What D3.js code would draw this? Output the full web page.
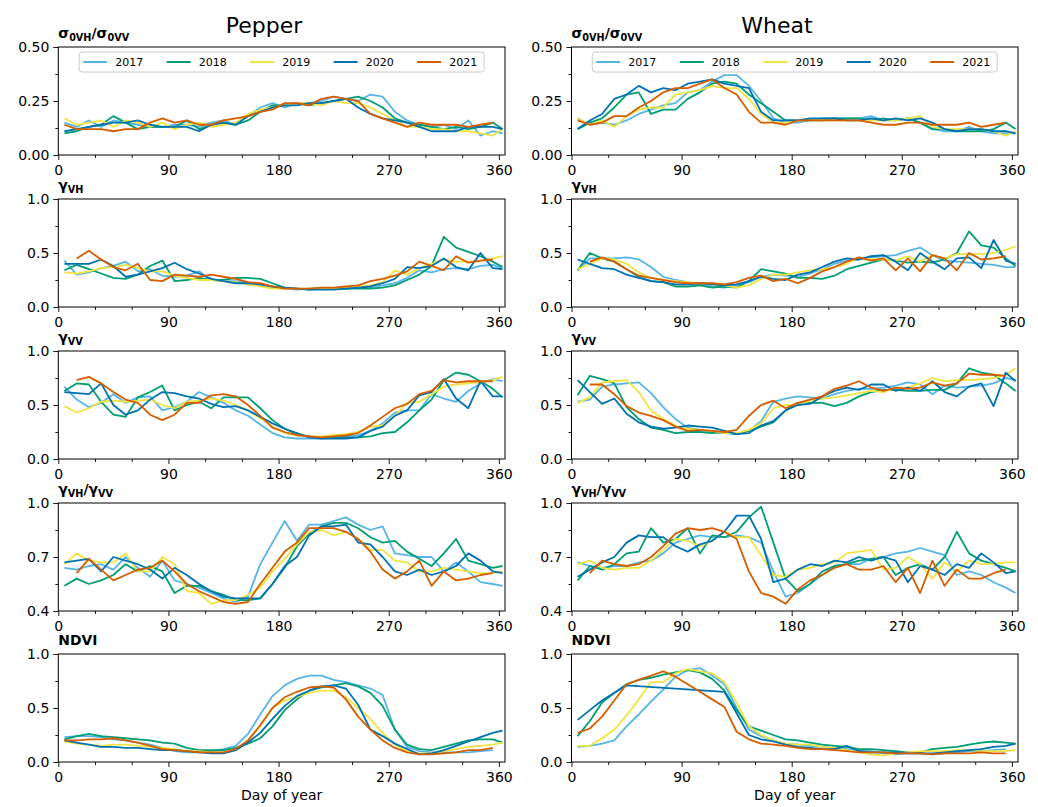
<!DOCTYPE html>
<html>
<head>
<meta charset="utf-8">
<title>Pepper / Wheat time series</title>
<script src="https://cdn.jsdelivr.net/npm/d3@7"></script>
<style>
  body { margin: 0; background: #fff; }
  svg text { font-family: "DejaVu Sans", sans-serif; fill: #000; }
</style>
</head>
<body>
<svg id="chart" width="1038" height="807"></svg>
<script>
// ---- data -------------------------------------------------------------
const YEARS  = ["2017", "2018", "2019", "2020", "2021"];
const COLORS = ["#56B4E9", "#009E73", "#F0E442", "#0072B2", "#D55E00"];
const DAYS = [5,15,25,35,45,55,65,75,85,95,105,115,125,135,145,155,165,175,185,195,
              205,215,225,235,245,255,265,275,285,295,305,315,325,335,345,355,363];
const X_TICKS = [0, 90, 180, 270, 360];
const X_MINOR = [30, 60, 120, 150, 210, 240, 300, 330];

// sigma0VH / sigma0VV
const SIGMA_PEPPER = [
  [.15,.13,.16,.13,.16,.15,.14,.13,.13,.14,.14,.13,.15,.16,.14,.18,.22,.24,.22,.24,.24,.25,.27,.26,.25,.28,.27,.20,.16,.14,.13,.14,.12,.16,.09,.11,.10],
  [.10,.11,.13,.14,.18,.15,.12,.13,.13,.13,.16,.12,.14,.15,.14,.16,.20,.23,.23,.24,.23,.24,.25,.26,.27,.25,.22,.17,.15,.14,.13,.12,.13,.12,.13,.15,.12],
  [.17,.14,.15,.16,.13,.16,.15,.13,.15,.12,.14,.15,.13,.14,.15,.19,.21,.22,.23,.24,.24,.23,.25,.24,.24,.22,.19,.16,.13,.13,.12,.12,.11,.11,.10,.09,.12],
  [.11,.12,.13,.14,.15,.15,.16,.14,.13,.13,.13,.11,.14,.15,.14,.18,.20,.22,.23,.23,.24,.24,.25,.26,.22,.19,.17,.16,.15,.13,.11,.11,.11,.13,.13,.13,.12],
  [.14,.12,.12,.12,.11,.12,.12,.15,.17,.15,.16,.14,.14,.16,.17,.18,.20,.21,.24,.24,.23,.26,.27,.26,.25,.19,.17,.15,.13,.15,.14,.14,.14,.13,.14,.15,null]
];
const SIGMA_WHEAT = [
  [.17,.14,.15,.14,.16,.19,.21,.23,.24,.29,.30,.34,.37,.37,.32,.25,.17,.15,.15,.16,.17,.17,.17,.17,.18,.16,.16,.17,.15,.12,.11,.11,.13,.11,.10,.10,.10],
  [.12,.15,.17,.22,.28,.29,.19,.21,.21,.26,.29,.33,.34,.33,.28,.24,.20,.16,.16,.16,.16,.17,.17,.17,.16,.17,.16,.17,.15,.12,.12,.11,.11,.11,.12,.15,.12],
  [.17,.14,.16,.13,.18,.21,.22,.22,.28,.29,.30,.32,.31,.31,.26,.19,.15,.15,.16,.16,.16,.16,.16,.16,.16,.16,.16,.17,.18,.13,.12,.12,.12,.12,.11,.09,.11],
  [.12,.16,.19,.26,.28,.32,.29,.31,.30,.33,.34,.35,.33,.32,.31,.20,.16,.16,.16,.17,.17,.17,.16,.16,.17,.16,.17,.16,.17,.15,.12,.11,.12,.12,.11,.11,.10],
  [.16,.14,.15,.18,.18,.22,.25,.29,.31,.31,.33,.35,.31,.28,.20,.15,.15,.14,.16,.16,.16,.16,.16,.16,.15,.14,.14,.15,.15,.14,.14,.14,.15,.13,.14,.15,null]
];

// gamma VH
const GVH_PEPPER = [
  [.43,.30,.32,.36,.38,.42,.33,.35,.29,.28,.29,.33,.25,.24,.24,.22,.20,.18,.17,.16,.17,.17,.17,.17,.18,.18,.20,.22,.27,.34,.32,.35,.36,.35,.38,.39,.36],
  [.34,.39,.35,.31,.27,.26,.30,.38,.43,.24,.25,.27,.25,.25,.27,.27,.26,.22,.18,.17,.16,.17,.17,.17,.17,.17,.18,.20,.25,.30,.38,.65,.55,.51,.47,.42,.37],
  [.32,.31,.33,.36,.37,.39,.36,.33,.33,.29,.27,.25,.25,.24,.23,.21,.19,.17,.17,.17,.17,.17,.17,.18,.19,.20,.23,.34,.30,.36,.40,.44,.42,.42,.43,.45,.47],
  [.40,.40,.40,.44,.38,.28,.30,.33,.36,.41,.35,.31,.26,.24,.22,.22,.21,.19,.18,.17,.16,.16,.16,.17,.18,.19,.22,.26,.37,.36,.38,.45,.37,.34,.50,.36,.35],
  [null,.45,.52,.44,.37,.34,.40,.25,.24,.30,.29,.28,.30,.28,.26,.23,.22,.19,.17,.17,.17,.18,.18,.19,.20,.24,.26,.29,.33,.42,.38,.34,.47,.41,.43,.44,null]
];
const GVH_WHEAT = [
  [.34,.45,.45,.45,.46,.44,.37,.28,.25,.23,.21,.19,.18,.20,.23,.28,.30,.29,.28,.31,.35,.40,.43,.44,.46,.47,.48,.52,.55,.48,.43,.42,.41,.40,.39,.37,.37],
  [.34,.50,.45,.42,.35,.28,.24,.23,.19,.19,.20,.18,.19,.18,.24,.35,.33,.31,.27,.27,.26,.29,.35,.38,.41,.44,.43,.41,.42,.41,.44,.50,.70,.57,.55,.45,.38],
  [.35,.40,.45,.44,.40,.32,.27,.25,.24,.23,.22,.21,.20,.18,.20,.26,.30,.30,.32,.34,.35,.37,.40,.46,.44,.44,.43,.47,.42,.48,.45,.49,.49,.49,.50,.53,.56],
  [.44,.40,.36,.35,.30,.27,.24,.23,.21,.21,.22,.21,.20,.21,.24,.28,.26,.25,.30,.32,.37,.42,.45,.44,.47,.48,.42,.34,.50,.42,.35,.45,.46,.36,.62,.43,.40],
  [null,.42,.46,.42,.35,.29,.27,.25,.23,.22,.22,.22,.21,.23,.27,.29,.24,.26,.22,.27,.33,.37,.42,.46,.43,.45,.34,.45,.33,.48,.45,.34,.50,.44,.45,.47,null]
];

// gamma VV
const GVV_PEPPER = [
  [.67,.55,.48,.52,.60,.52,.57,.58,.45,.48,.53,.62,.57,.52,.45,.40,.32,.24,.20,.19,.19,.19,.20,.21,.22,.26,.33,.43,.45,.45,.60,.56,.53,.63,.70,.74,.72],
  [.63,.70,.69,.53,.41,.39,.57,.62,.68,.45,.50,.53,.47,.57,.57,.57,.47,.36,.28,.23,.21,.20,.20,.20,.20,.21,.24,.25,.34,.45,.55,.73,.80,.78,.72,.65,.57],
  [.49,.43,.47,.53,.54,.53,.54,.55,.50,.47,.53,.54,.56,.54,.50,.45,.38,.30,.24,.22,.21,.21,.22,.23,.25,.30,.31,.40,.52,.53,.60,.67,.69,.70,.71,.73,.76],
  [.62,.61,.60,.70,.50,.41,.45,.55,.62,.61,.58,.56,.51,.48,.49,.45,.39,.33,.28,.24,.20,.19,.19,.19,.20,.26,.30,.40,.45,.59,.62,.74,.56,.47,.72,.58,.58],
  [null,.73,.76,.70,.62,.55,.52,.41,.36,.41,.52,.52,.59,.60,.58,.50,.40,.29,.25,.22,.21,.20,.21,.22,.24,.31,.39,.47,.51,.60,.63,.73,.71,.72,.72,.72,null]
];
const GVV_WHEAT = [
  [.53,.55,.67,.69,.70,.71,.61,.48,.37,.29,.27,.25,.24,.23,.26,.35,.53,.56,.58,.57,.56,.60,.63,.65,.65,.66,.68,.71,.69,.60,.68,.66,.67,.68,.70,.75,.73],
  [.59,.77,.74,.70,.48,.37,.29,.27,.24,.25,.25,.24,.25,.23,.26,.30,.34,.45,.52,.52,.52,.49,.52,.58,.62,.64,.64,.63,.63,.64,.64,.70,.84,.80,.78,.70,.63],
  [.52,.57,.71,.72,.73,.62,.45,.37,.31,.28,.27,.26,.24,.24,.27,.33,.47,.50,.50,.54,.56,.57,.59,.61,.63,.62,.66,.66,.70,.75,.72,.73,.73,.74,.75,.78,.84],
  [.73,.62,.51,.56,.42,.34,.30,.28,.29,.31,.30,.29,.26,.23,.24,.31,.35,.45,.50,.51,.58,.63,.66,.64,.69,.69,.63,.66,.63,.72,.62,.58,.67,.70,.49,.80,.72],
  [null,.69,.69,.60,.49,.43,.40,.36,.30,.26,.27,.26,.25,.27,.40,.50,.54,.47,.52,.55,.58,.65,.68,.72,.66,.63,.66,.65,.66,.71,.68,.70,.79,.78,.78,.77,null]
];

// gamma VH / gamma VV
const RATIO_PEPPER = [
  [.64,.63,.65,.66,.63,.70,.64,.59,.68,.57,.55,.53,.50,.47,.45,.48,.66,.78,.90,.79,.88,.88,.90,.92,.88,.85,.87,.72,.71,.70,.70,.62,.67,.62,.56,.55,.54],
  [.54,.58,.55,.57,.60,.66,.62,.65,.62,.50,.54,.54,.51,.49,.46,.46,.47,.55,.64,.76,.83,.87,.89,.89,.86,.81,.78,.79,.73,.69,.65,.72,.80,.68,.66,.64,.65],
  [.66,.72,.68,.67,.67,.72,.62,.62,.70,.66,.51,.50,.44,.46,.46,.49,.53,.62,.69,.77,.84,.85,.82,.84,.80,.74,.74,.68,.67,.62,.62,.64,.63,.62,.61,.61,.62],
  [.67,.68,.69,.62,.70,.68,.66,.63,.58,.64,.60,.55,.51,.48,.47,.47,.47,.55,.65,.70,.82,.87,.87,.88,.78,.77,.70,.62,.60,.63,.60,.62,.65,.72,.68,.62,.61],
  [null,.61,.69,.63,.57,.60,.63,.64,.68,.62,.55,.51,.48,.45,.44,.45,.55,.64,.73,.78,.86,.86,.86,.84,.80,.73,.63,.58,.62,.68,.54,.62,.57,.58,.60,.61,null]
];
const RATIO_WHEAT = [
  [.67,.65,.64,.65,.65,.67,.68,.72,.78,.80,.82,.81,.81,.82,.81,.78,.62,.48,.50,.55,.60,.65,.66,.66,.69,.70,.72,.73,.75,.73,.71,.60,.62,.60,.56,.53,.50],
  [.57,.65,.63,.66,.72,.73,.86,.78,.80,.86,.72,.82,.81,.84,.92,.98,.78,.58,.51,.55,.62,.65,.66,.68,.69,.70,.60,.64,.66,.63,.70,.84,.72,.68,.66,.64,.62],
  [.66,.68,.64,.63,.64,.64,.68,.74,.80,.79,.76,.79,.84,.81,.81,.71,.60,.59,.63,.64,.66,.67,.72,.73,.74,.63,.64,.70,.66,.58,.67,.62,.68,.66,.66,.67,.67],
  [.59,.63,.67,.70,.78,.82,.81,.81,.76,.73,.77,.79,.84,.93,.93,.80,.56,.58,.63,.66,.65,.68,.67,.70,.68,.70,.68,.56,.65,.63,.60,.66,.64,.72,.67,.61,.62],
  [null,.61,.68,.66,.65,.66,.70,.76,.83,.86,.85,.86,.84,.80,.62,.50,.48,.44,.52,.57,.60,.64,.66,.63,.63,.65,.56,.64,.50,.68,.54,.63,.58,.58,.61,.63,null]
];

// NDVI
const NDVI_PEPPER = [
  [.23,.24,.24,.23,.21,.20,.18,.16,.13,.10,.09,.09,.10,.12,.15,.26,.44,.61,.71,.77,.80,.80,.76,.74,.71,.68,.62,.30,.14,.10,.09,.09,.09,.09,.10,.11,null],
  [.21,.24,.26,.24,.23,.22,.21,.20,.18,.17,.13,.11,.11,.11,.13,.17,.22,.33,.48,.58,.66,.69,.71,.73,.70,.64,.52,.30,.16,.12,.11,.14,.17,.20,.21,.21,.18],
  [.19,.17,.16,.15,.16,.16,.15,.14,.13,.12,.10,.10,.09,.09,.11,.20,.33,.50,.57,.60,.64,.66,.66,.60,.50,.40,.27,.16,.10,.08,.08,.10,.12,.14,.15,.16,.18],
  [.20,.18,.16,.14,.14,.13,.13,.12,.11,.11,.10,.09,.08,.08,.11,.18,.27,.40,.52,.61,.66,.70,.71,.68,.53,.30,.24,.17,.12,.07,.08,.11,.15,.19,.23,.27,.29],
  [.20,.20,.21,.21,.22,.20,.18,.15,.12,.11,.10,.09,.09,.09,.12,.20,.34,.50,.60,.65,.69,.70,.69,.58,.42,.30,.20,.13,.09,.07,.07,.08,.09,.11,.11,.13,null]
];
const NDVI_WHEAT = [
  [.14,.15,.17,.20,.33,.44,.56,.67,.79,.85,.87,.80,.72,.50,.30,.24,.20,.17,.16,.15,.14,.13,.12,.11,.10,.08,.07,.08,.08,.07,.08,.09,.10,.10,.11,.12,null],
  [.24,.38,.55,.64,.72,.76,.78,.81,.83,.85,.83,.77,.66,.48,.33,.29,.25,.21,.20,.18,.16,.15,.14,.12,.12,.11,.10,.09,.09,.12,.13,.14,.16,.18,.19,.18,.17],
  [.15,.15,.22,.30,.43,.58,.74,.74,.82,.86,.84,.82,.74,.55,.33,.25,.20,.17,.16,.16,.14,.13,.11,.09,.07,.06,.08,.09,.10,.10,.10,.11,.11,.10,.10,.10,.11],
  [.39,.48,.57,.64,.71,null,null,null,null,null,null,null,.65,.45,.25,.21,.19,.16,.14,.13,.12,.12,.15,.10,.09,.09,.09,.08,.08,.08,.09,.10,.11,.12,.14,.15,.17],
  [.27,.31,.42,.57,.72,.76,.80,.84,.79,.72,.65,.58,.51,.28,.21,.17,.16,.15,.13,.12,.12,.11,.10,.09,.09,.09,.08,.08,.08,.07,.08,.08,.08,.09,.08,.08,null]
];

// ---- layout -----------------------------------------------------------
const COLS = [
  { title: "Pepper", x0: 58.3,  x1: 505,  titleX: 264 },
  { title: "Wheat",  x0: 571.5, x1: 1018, titleX: 777 }
];
const ROW_TOP = [47, 199, 351, 503, 654];
const ROW_H = 108;

const ROWS = [
  { label: [["σ",0],["0VH",1],["/σ",0],["0VV",1]], domain: [0, 0.5], ticks: [0, 0.25, 0.5], minor: [0.125, 0.375], fmt: ".2f", data: [SIGMA_PEPPER, SIGMA_WHEAT] },
  { label: [["γ",0],["VH",1]], domain: [0, 1], ticks: [0, 0.5, 1], minor: [0.25, 0.75], fmt: ".1f", data: [GVH_PEPPER, GVH_WHEAT] },
  { label: [["γ",0],["VV",1]], domain: [0, 1], ticks: [0, 0.5, 1], minor: [0.25, 0.75], fmt: ".1f", data: [GVV_PEPPER, GVV_WHEAT] },
  { label: [["γ",0],["VH",1],["/γ",0],["VV",1]], domain: [0.4, 1], ticks: [0.4, 0.7, 1], minor: [0.55, 0.85], fmt: ".1f", data: [RATIO_PEPPER, RATIO_WHEAT] },
  { label: [["NDVI",0]], domain: [0, 1], ticks: [0, 0.5, 1], minor: [0.25, 0.75], fmt: ".1f", data: [NDVI_PEPPER, NDVI_WHEAT] }
];

const svg = d3.select("#chart");

function styleAxis(sel) {
  sel.select(".domain").remove();
  sel.selectAll("line").attr("stroke", "#000").attr("stroke-width", 0.9);
  sel.selectAll("text").attr("font-size", 14).attr("font-family", "DejaVu Sans");
}

COLS.forEach((col, c) => {
  const w = col.x1 - col.x0;
  const x = d3.scaleLinear().domain([0, 365]).range([0, w]);

  svg.append("text")
    .attr("x", col.titleX).attr("y", 33)
    .attr("text-anchor", "middle")
    .attr("font-size", 22)
    .text(col.title);

  ROWS.forEach((row, r) => {
    const top = ROW_TOP[r];
    const y = d3.scaleLinear().domain(row.domain).range([ROW_H, 0]);
    const g = svg.append("g").attr("transform", `translate(${col.x0},${top})`);

    const clipId = `clip-${c}-${r}`;
    g.append("clipPath").attr("id", clipId)
      .append("rect").attr("width", w).attr("height", ROW_H);

    const line = d3.line().x(d => x(d[0])).y(d => y(d[1]));
    const lines = g.append("g").attr("clip-path", `url(#${clipId})`);
    row.data[c].forEach((vals, i) => {
      const pts = DAYS.map((d, j) => [d, vals[j]]).filter(p => p[1] != null);
      lines.append("path")
        .attr("d", line(pts))
        .attr("fill", "none")
        .attr("stroke", COLORS[i])
        .attr("stroke-width", 1.8)
        .attr("stroke-linejoin", "round");
    });

    // axes
    g.append("g").attr("transform", `translate(0,${ROW_H})`)
      .call(d3.axisBottom(x).tickValues(X_TICKS).tickSize(5).tickPadding(5).tickFormat(d3.format("d")))
      .call(styleAxis);
    g.append("g").attr("transform", `translate(0,${ROW_H})`)
      .call(d3.axisBottom(x).tickValues(X_MINOR).tickSize(3).tickFormat(""))
      .call(styleAxis);
    g.append("g")
      .call(d3.axisLeft(y).tickValues(row.ticks).tickSize(5).tickPadding(4).tickFormat(d3.format(row.fmt)))
      .call(styleAxis);
    g.append("g")
      .call(d3.axisLeft(y).tickValues(row.minor).tickSize(3).tickFormat(""))
      .call(styleAxis);

    g.append("rect")
      .attr("width", w).attr("height", ROW_H)
      .attr("fill", "none").attr("stroke", "#000").attr("stroke-width", 1);

    // panel label
    const lab = g.append("text").attr("x", 0).attr("y", -9)
      .attr("font-weight", "bold").attr("font-size", 13.9);
    let shifted = false;
    row.label.forEach(([txt, sub]) => {
      const t = lab.append("tspan").text(txt);
      if (sub && !shifted) { t.attr("dy", 3); shifted = true; }
      else if (!sub && shifted) { t.attr("dy", -3); shifted = false; }
      if (sub) t.attr("font-size", 9.7);
    });

    // legend on the first row
    if (r === 0) {
      const lw = 405, lh = 20;
      const lx = w / 2 - lw / 2, ly = 5;
      const leg = g.append("g");
      leg.append("rect")
        .attr("x", lx).attr("y", ly).attr("width", lw).attr("height", lh)
        .attr("rx", 3).attr("fill", "#fff").attr("fill-opacity", 0.8)
        .attr("stroke", "#cccccc").attr("stroke-width", 1);
      YEARS.forEach((yr, i) => {
        const ex = lx + 4 + i * 83.5;
        leg.append("line")
          .attr("x1", ex).attr("x2", ex + 24)
          .attr("y1", ly + lh / 2).attr("y2", ly + lh / 2)
          .attr("stroke", COLORS[i]).attr("stroke-width", 2);
        leg.append("text")
          .attr("x", ex + 32).attr("y", ly + lh / 2 + 4)
          .attr("font-size", 11)
          .text(yr);
      });
    }

    if (r === ROWS.length - 1) {
      g.append("text")
        .attr("x", w / 2).attr("y", ROW_H + 38)
        .attr("text-anchor", "middle")
        .attr("font-size", 14)
        .text("Day of year");
    }
  });
});
</script>
</body>
</html>
